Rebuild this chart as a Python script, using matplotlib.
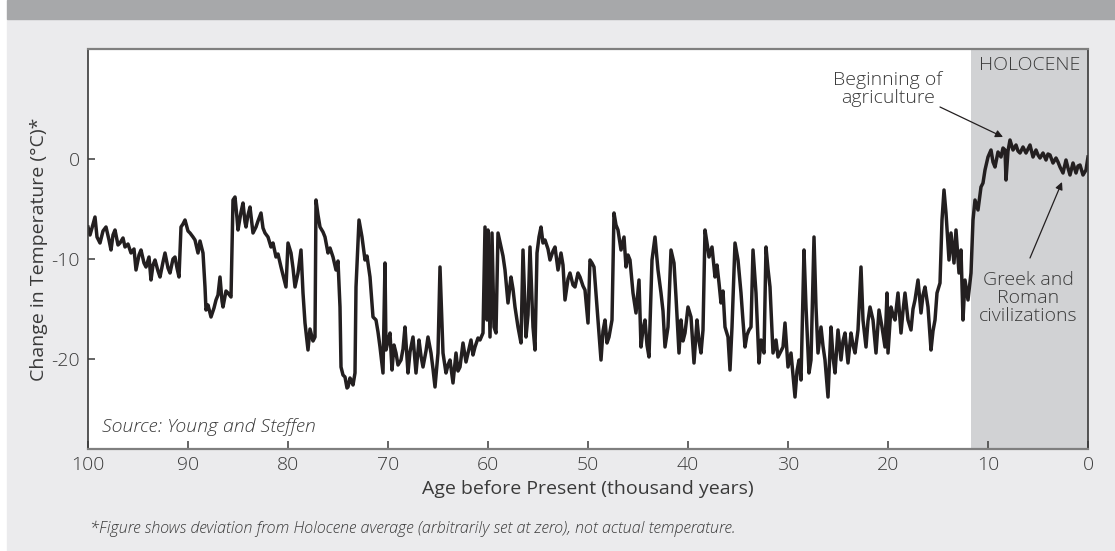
import matplotlib
matplotlib.use("Agg")
import matplotlib.pyplot as plt
from matplotlib.patches import Rectangle

plt.rcParams['font.family'] = ['Open Sans', 'DejaVu Sans']
plt.rcParams['font.weight'] = 'light'
plt.rcParams['axes.unicode_minus'] = False

# age (thousand years before present) and temperature change (deg C)
age_kyr = [
    100.0, 99.8, 99.6, 99.3, 99.1, 98.8, 98.5, 98.2, 97.9, 97.7, 97.5, 97.3, 97.0, 96.8, 96.5, 96.3,
    96.0, 95.7, 95.4, 95.2, 94.9, 94.7, 94.4, 94.2, 93.9, 93.7, 93.5, 93.3, 93.0, 92.8, 92.5, 92.3,
    92.0, 91.8, 91.5, 91.3, 91.1, 90.9, 90.7, 90.5, 90.3, 90.0, 89.8, 89.5, 89.3, 89.0, 88.8, 88.5,
    88.3, 88.2, 88.0, 87.7, 87.4, 87.2, 87.0, 86.8, 86.6, 86.5, 86.2, 86.0, 85.7, 85.5, 85.3, 85.1,
    85.0, 84.7, 84.5, 84.3, 84.2, 84.0, 83.8, 83.6, 83.5, 83.2, 83.0, 82.7, 82.5, 82.3, 82.0, 81.7,
    81.5, 81.2, 81.0, 80.7, 80.5, 80.2, 80.0,
    79.7, 79.5, 79.3, 79.0, 78.7, 78.5, 78.3, 78.0, 77.8, 77.7, 77.5, 77.3, 77.2, 77.0, 76.8, 76.5,
    76.3, 76.0, 75.8, 75.5, 75.2, 75.0, 74.8, 74.7, 74.5, 74.3, 74.1, 74.0, 73.8, 73.7, 73.5, 73.3,
    73.2, 72.9, 72.6, 72.3, 72.1, 71.8, 71.5, 71.2, 71.0, 70.8, 70.5, 70.3, 70.2, 70.0, 69.8, 69.6,
    69.4, 69.2, 69.0, 68.7, 68.5, 68.3, 68.0, 67.8, 67.5, 67.2, 66.9, 66.7, 66.5, 66.2, 66.0, 65.7,
    65.5, 65.3, 65.0, 64.8, 64.5, 64.2, 64.0, 63.8, 63.5, 63.2, 63.0, 62.8, 62.5, 62.2, 62.0, 61.7,
    61.5, 61.3, 61.0, 60.8, 60.5, 60.3, 60.1,
    60.0, 59.8, 59.6, 59.4, 59.2, 59.0, 58.7, 58.5, 58.3, 58.0, 57.7, 57.5, 57.3, 57.0, 56.7, 56.5,
    56.2, 56.0, 55.8, 55.5, 55.3, 55.1, 54.9, 54.7, 54.5, 54.3, 54.0, 53.8, 53.5, 53.3, 53.0, 52.7,
    52.5, 52.3, 52.0, 51.8, 51.5, 51.3, 51.0, 50.8, 50.5, 50.3, 50.0, 49.8, 49.6, 49.4, 49.1, 48.9,
    48.7, 48.5, 48.3, 48.1, 47.9, 47.6, 47.4, 47.2, 47.0, 46.7, 46.4, 46.2, 46.0, 45.8, 45.5, 45.2,
    44.9, 44.7, 44.5, 44.3, 44.1, 43.9, 43.6, 43.3, 43.0, 42.7, 42.5, 42.3, 42.0, 41.7, 41.4, 41.2,
    40.9, 40.7, 40.5, 40.3, 40.0,
    39.7, 39.4, 39.1, 38.9, 38.7, 38.5, 38.3, 38.1, 37.9, 37.6, 37.3, 37.1, 36.9, 36.7, 36.5, 36.3,
    36.0, 35.8, 35.6, 35.3, 35.0, 34.7, 34.5, 34.3, 34.1, 33.9, 33.7, 33.5, 33.2, 32.9, 32.7, 32.4,
    32.2, 32.0, 31.8, 31.5, 31.2, 31.0, 30.8, 30.5, 30.3, 30.0, 29.7, 29.5, 29.3, 29.1, 28.9, 28.7,
    28.4, 28.2, 27.9, 27.7, 27.4, 27.2, 27.0, 26.7, 26.5, 26.3, 26.0, 25.7, 25.5, 25.3, 25.0, 24.7,
    24.5, 24.3, 24.0, 23.7, 23.5, 23.3, 23.0, 22.7, 22.5, 22.2, 22.0, 21.8, 21.5, 21.2, 20.9, 20.6,
    20.3, 20.1,
    20.0, 19.7, 19.5, 19.3, 19.0, 18.7, 18.5, 18.3, 18.0, 17.7, 17.5, 17.3, 17.0, 16.7, 16.5, 16.3,
    16.0, 15.7, 15.5, 15.3, 15.1, 14.8, 14.6, 14.4, 14.2, 13.9, 13.7, 13.4, 13.2, 12.9, 12.7, 12.5,
    12.3, 12.0, 11.7, 11.5, 11.3, 11.0, 10.7, 10.5, 10.3, 10.0, 9.7, 9.5, 9.3, 9.0, 8.7, 8.5,
    8.3, 8.2, 8.0, 7.8, 7.5, 7.2, 7.0, 6.8, 6.5, 6.2, 6.0, 5.8, 5.5, 5.2, 5.0, 4.8,
    4.5, 4.2, 4.0, 3.8, 3.5, 3.2, 3.0, 2.8, 2.5, 2.2, 2.0, 1.8, 1.5, 1.2, 1.0, 0.8,
    0.5, 0.2, 0.0,
]
temp_change = [
    -6.8, -7.6, -6.9, -5.8, -7.8, -8.4, -7.2, -6.8, -8.1, -9.1, -7.6, -7.1, -8.6, -8.4, -7.9, -8.8,
    -8.5, -9.4, -9.0, -11.1, -9.6, -9.1, -10.4, -10.8, -9.8, -12.1, -10.6, -10.1, -11.2, -11.8, -10.3, -9.4,
    -10.9, -11.4, -10.0, -9.8, -10.9, -11.8, -6.8, -6.5, -6.1, -7.2, -7.4, -7.8, -8.1, -9.4, -8.2, -9.4,
    -12.8, -15.1, -14.6, -15.8, -14.9, -14.1, -13.6, -11.8, -14.2, -14.8, -13.2, -13.4, -13.8, -4.1, -3.8, -5.9,
    -7.1, -5.3, -4.4, -6.3, -6.8, -5.6, -4.8, -6.5, -7.4, -6.8, -6.2, -5.4, -6.9, -7.4, -7.8, -8.8,
    -8.4, -9.8, -9.5, -10.8, -11.6, -12.8, -8.4,
    -9.4, -10.9, -12.8, -11.4, -9.1, -13.4, -16.4, -19.1, -17.0, -17.4, -18.2, -17.8, -4.1, -5.6, -6.8, -7.3,
    -7.8, -9.4, -8.9, -9.8, -11.1, -10.2, -14.8, -20.8, -21.6, -21.8, -22.9, -22.8, -21.9, -22.1, -22.6, -21.4,
    -12.8, -6.1, -7.8, -10.1, -9.7, -11.8, -15.8, -16.1, -17.3, -18.8, -21.4, -10.4, -19.1, -18.2, -17.4, -21.1,
    -18.6, -19.4, -20.6, -20.1, -19.0, -16.8, -21.4, -19.3, -17.8, -21.4, -18.1, -19.7, -20.8, -19.2, -17.8, -19.4,
    -21.0, -22.8, -19.4, -10.8, -19.4, -21.4, -20.6, -20.1, -22.4, -19.4, -21.2, -20.8, -18.4, -20.3, -19.4, -18.1,
    -19.6, -18.8, -17.9, -18.1, -17.4, -6.8, -16.1,
    -7.1, -17.8, -7.4, -16.8, -17.4, -7.4, -8.8, -9.7, -11.1, -14.4, -11.8, -13.0, -14.8, -16.8, -18.4, -9.1,
    -17.8, -15.6, -8.8, -16.8, -19.1, -9.4, -7.8, -6.8, -8.4, -8.1, -9.0, -10.1, -9.2, -8.8, -11.1, -9.4,
    -10.6, -14.1, -12.0, -11.4, -12.6, -12.8, -11.4, -11.8, -12.7, -13.1, -16.4, -10.1, -10.4, -10.8, -14.8, -17.6,
    -20.1, -17.2, -16.1, -18.4, -17.8, -16.1, -5.4, -6.6, -7.1, -9.1, -7.8, -10.8, -9.6, -10.1, -13.4, -15.4,
    -12.1, -18.8, -17.0, -16.1, -18.6, -19.8, -10.1, -7.8, -11.1, -13.4, -15.2, -18.8, -16.8, -9.1, -10.4, -13.8,
    -19.4, -16.1, -18.2, -17.4, -14.8,
    -15.8, -20.4, -16.1, -18.2, -19.4, -17.1, -7.1, -8.4, -9.8, -8.8, -11.8, -10.6, -12.4, -14.4, -13.2, -16.8,
    -17.8, -21.1, -16.8, -8.4, -10.1, -13.4, -16.2, -18.8, -17.6, -17.1, -16.8, -9.1, -13.4, -20.4, -18.1, -19.4,
    -8.8, -11.0, -12.8, -19.4, -18.1, -19.8, -19.4, -18.8, -16.4, -20.8, -19.4, -21.6, -23.8, -21.2, -20.1, -22.1,
    -9.1, -14.8, -21.4, -20.1, -7.8, -14.8, -19.4, -16.8, -18.7, -20.1, -23.8, -16.8, -19.8, -21.4, -17.1, -20.1,
    -18.2, -17.4, -20.4, -17.4, -18.6, -19.4, -17.1, -10.8, -16.1, -18.8, -16.2, -14.8, -16.1, -19.4, -15.1, -16.8,
    -18.8, -13.4,
    -19.4, -14.8, -15.6, -16.1, -13.4, -17.4, -15.2, -13.4, -16.1, -17.1, -15.0, -14.1, -12.1, -15.4, -13.6, -12.8,
    -14.8, -19.1, -17.2, -16.1, -13.4, -12.4, -6.1, -3.1, -5.4, -10.1, -7.4, -10.4, -7.1, -11.4, -9.1, -16.1,
    -12.1, -14.1, -11.4, -6.1, -4.1, -5.1, -2.8, -2.4, -1.1, 0.2, 0.9, -0.3, -0.8, 0.7, 0.2, 1.1,
    0.9, -2.1, 0.8, 1.9, 0.9, 1.4, 0.8, 0.6, 1.2, 0.6, 1.0, 1.4, 0.2, 0.9, 0.4, 0.1,
    0.6, -0.1, 0.5, 0.4, -0.4, 0.1, -0.3, -0.8, -1.4, -0.1, -0.9, -1.6, -0.4, -1.4, -0.7, -0.6,
    -1.6, -1.1, 0.2,
]

holocene_start = 11.7

fig = plt.figure(figsize=(11.15, 5.51), dpi=100)
fig.patch.set_facecolor('white')
fig.patches.append(Rectangle((7 / 1115, 0), 1, 532 / 551, transform=fig.transFigure,
                             color='#ebebed', zorder=-2))
fig.patches.append(Rectangle((7 / 1115, 532 / 551), 1, 19 / 551, transform=fig.transFigure,
                             color='#a7a8aa', zorder=-2))

ax = fig.add_axes([88 / 1115, 102 / 551, 1000 / 1115, 400 / 551])
ax.set_facecolor('white')
ax.axvspan(holocene_start, 0, color='#d1d2d4', zorder=0, lw=0)
ax.plot(age_kyr, temp_change, color='#231f20', lw=2.5, zorder=2)

ax.set_xlim(100, 0)
ax.set_ylim(-29, 11)
ax.set_xticks(range(100, -1, -10))
ax.set_yticks([0, -10, -20])

txt = '#3a3a3a'
for s in ['left', 'right']:
    ax.spines[s].set_color('#3a3a3a')
    ax.spines[s].set_linewidth(1.2)
for s in ['top', 'bottom']:
    ax.spines[s].set_color('#7f7f7f')
    ax.spines[s].set_linewidth(1.6)

ax.tick_params(axis='x', direction='in', length=6, width=1.1, color='#3a3a3a',
               labelsize=14, labelcolor=txt, pad=5)
ax.tick_params(axis='y', direction='in', length=5, width=1.1, color='#3a3a3a',
               labelsize=14, labelcolor=txt, pad=6)

ax.set_xlabel('Age before Present (thousand years)', fontsize=14, color=txt, labelpad=4)
ax.set_ylabel('Change in Temperature (°C)*', fontsize=14, color=txt, labelpad=2)

ax.text(10.9, 10.3, 'HOLOCENE', fontsize=14, color=txt, ha='left', va='top')
ax.text(20.0, 7.0, 'Beginning of\nagriculture', fontsize=14, color=txt,
        ha='center', va='center', linespacing=1.0)
ax.annotate('', xy=(8.5, 2.2), xytext=(14.8, 5.2),
            arrowprops=dict(arrowstyle='-|>', color='#231f20', lw=0.9,
                            mutation_scale=11, shrinkA=0, shrinkB=0))
ax.text(6.0, -13.9, 'Greek and\nRoman\ncivilizations', fontsize=14, color=txt,
        ha='center', va='center', linespacing=1.0)
ax.annotate('', xy=(2.6, -2.3), xytext=(5.8, -9.9),
            arrowprops=dict(arrowstyle='-|>', color='#231f20', lw=0.9,
                            mutation_scale=11, shrinkA=0, shrinkB=0))
ax.text(98.6, -26.8, 'Source: Young and Steffen', fontsize=14, color=txt,
        style='italic', ha='left', va='center')

fig.text(90 / 1115, 1 - 529 / 551,
         '*Figure shows deviation from Holocene average (arbitrarily set at zero), not actual temperature.',
         fontsize=11.6, color=txt, style='italic', ha='left', va='center')

fig.savefig('out.png', dpi=100)
